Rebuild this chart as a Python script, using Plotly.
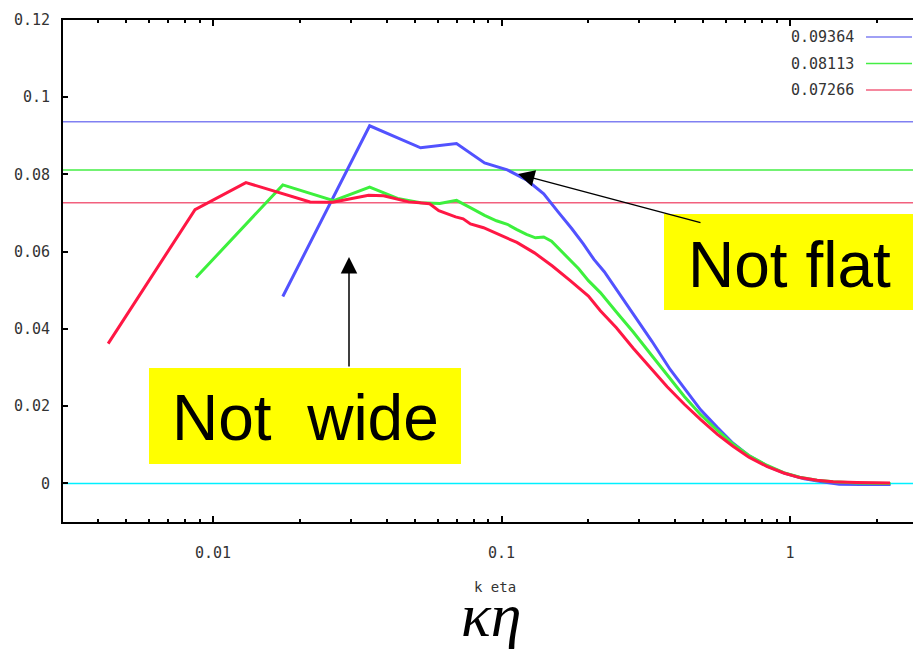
import plotly.graph_objects as go

# ---- spectra: k*eta vs compensated energy spectrum -------------------------
red_x = [0.00433, 0.00866, 0.0130, 0.0173, 0.0217, 0.0260, 0.0303, 0.0346, 0.0390,
         0.0433, 0.0476, 0.0520, 0.0563, 0.0606, 0.0650, 0.0693, 0.0736, 0.0780,
         0.0866, 0.100, 0.113, 0.130, 0.150, 0.173, 0.200, 0.220, 0.250, 0.286,
         0.330, 0.375, 0.430, 0.490, 0.560, 0.634, 0.720, 0.830, 0.950, 1.08,
         1.24, 1.41, 1.70, 2.22]
red_y = [0.0362, 0.0709, 0.0779, 0.0752, 0.0729, 0.0728, 0.0737, 0.0746, 0.0745,
         0.0737, 0.0729, 0.0727, 0.0724, 0.0706, 0.0697, 0.0690, 0.0685, 0.0672,
         0.0662, 0.0641, 0.0624, 0.0597, 0.0563, 0.0525, 0.0485, 0.0447, 0.0403, 0.0350,
         0.0297, 0.0250, 0.0205, 0.0165, 0.0127, 0.0096, 0.0068, 0.0044, 0.0027, 0.0015,
         0.0008, 0.0004, 0.0002, 0.0001]

green_x = [0.00873, 0.01745, 0.0262, 0.0349, 0.0436, 0.0524, 0.0611, 0.0698, 0.0785,
           0.0873, 0.0960, 0.1047, 0.113, 0.122, 0.131, 0.140, 0.149, 0.166, 0.185,
           0.200, 0.220, 0.250, 0.286, 0.330, 0.375, 0.430, 0.490, 0.560, 0.634,
           0.720, 0.830, 0.950, 1.08, 1.24, 1.41, 1.70, 2.23]
green_y = [0.0533, 0.0773, 0.0732, 0.0767, 0.0738, 0.0727, 0.0725, 0.0733, 0.0713,
           0.0694, 0.0680, 0.0671, 0.0657, 0.0645, 0.0636, 0.0638, 0.0627, 0.0592, 0.0556,
           0.0525, 0.0494, 0.0444, 0.0392, 0.0333, 0.0280, 0.0225, 0.0178, 0.0137, 0.0102,
           0.0072, 0.0047, 0.0028, 0.0016, 0.0008, 0.0004, 0.0001, 0.0000]

blue_x = [0.01745, 0.0349, 0.0524, 0.0698, 0.0873, 0.1047, 0.122, 0.140, 0.157,
          0.175, 0.192, 0.209, 0.227, 0.262, 0.297, 0.332, 0.384, 0.436, 0.489,
          0.559, 0.628, 0.716, 0.838, 0.960, 1.12, 1.29, 1.48, 1.75, 2.23]
blue_y = [0.0484, 0.0926, 0.0869, 0.0880, 0.0830, 0.0812, 0.0786, 0.0750, 0.0703,
          0.0660, 0.0620, 0.0580, 0.0548, 0.0480, 0.0422, 0.0368, 0.0295, 0.0240, 0.0191,
          0.0145, 0.0107, 0.0073, 0.0044, 0.0026, 0.0012, 0.0004, -0.0002, -0.0003, -0.0003]

# reference levels (shown in the key)
levels = [0.09364, 0.08113, 0.07266]
level_labels = ["0.09364", "0.08113", "0.07266"]

# ticks
x_major = [0.01, 0.1, 1]
x_major_text = ["0.01", "0.1", "1"]
x_minor = [0.004, 0.005, 0.006, 0.007, 0.008, 0.009,
           0.02, 0.03, 0.04, 0.05, 0.06, 0.07, 0.08, 0.09,
           0.2, 0.3, 0.4, 0.5, 0.6, 0.7, 0.8, 0.9, 2]
y_ticks = [0, 0.02, 0.04, 0.06, 0.08, 0.1, 0.12]
y_tick_text = ["0", "0.02", "0.04", "0.06", "0.08", "0.1", "0.12"]

# ---- styling ---------------------------------------------------------------
W, H = 913, 651
L, R, T, B = 63, 0, 20, 129
PW, PH = W - L - R, H - T - B

curve_colors = ["#5252ff", "#3df03d", "#ff1744"]
level_colors = ["#8080f2", "#44ee44", "#f2607e"]
mono = "DejaVu Sans Mono"


def px(xp):
    return (xp - L) / PW


def py(yp):
    return (H - B - yp) / PH


fig = go.Figure()
for xs, ys, c in [(blue_x, blue_y, curve_colors[0]),
                  (green_x, green_y, curve_colors[1]),
                  (red_x, red_y, curve_colors[2])]:
    fig.add_trace(go.Scatter(x=xs, y=ys, mode="lines",
                             line=dict(color=c, width=3), showlegend=False,
                             hoverinfo="skip"))

shapes = []
# constant reference lines
for lv, c in zip(levels, level_colors):
    shapes.append(dict(type="line", xref="paper", yref="y", x0=0, x1=1, y0=lv, y1=lv,
                       line=dict(color=c, width=1.5), layer="below"))
shapes.append(dict(type="line", xref="paper", yref="y", x0=0, x1=1, y0=0, y1=0,
                   line=dict(color="#00f0ff", width=1.5), layer="below"))

annotations = []
# key
for i, (lab, c) in enumerate(zip(level_labels, level_colors)):
    yk = 37 + i * 26.5
    annotations.append(dict(xref="paper", yref="paper", x=px(856), y=py(yk),
                            text=lab, showarrow=False, xanchor="right", yanchor="middle",
                            font=dict(family=mono, size=15, color="#333")))
    shapes.append(dict(type="line", xref="paper", yref="paper", x0=px(866), x1=px(912),
                       y0=py(yk), y1=py(yk), line=dict(color=c, width=1.5)))

# highlight boxes
shapes.append(dict(type="rect", xref="paper", yref="paper", x0=px(149), x1=px(461),
                   y0=py(464), y1=py(368), fillcolor="#ffff00", line=dict(width=0),
                   layer="above"))
shapes.append(dict(type="rect", xref="paper", yref="paper", x0=px(664), x1=px(913),
                   y0=py(310), y1=py(214), fillcolor="#ffff00", line=dict(width=0),
                   layer="above"))

annotations.append(dict(xref="paper", yref="paper", x=px(305), y=py(418),
                        text="Not\u00a0\u00a0wide", showarrow=False,
                        xanchor="center", yanchor="middle",
                        font=dict(family="Liberation Sans", size=64, color="black")))
annotations.append(dict(xref="paper", yref="paper", x=px(789), y=py(265),
                        text="Not flat", showarrow=False,
                        xanchor="center", yanchor="middle",
                        font=dict(family="Liberation Sans", size=64, color="black")))

# arrows
annotations.append(dict(xref="paper", yref="paper", x=px(349), y=py(257), text="",
                        showarrow=True, ax=0, ay=111, arrowhead=2, arrowsize=2.2,
                        arrowwidth=1.5, arrowcolor="black"))
annotations.append(dict(xref="paper", yref="paper", x=px(518), y=py(174), text="",
                        showarrow=True, ax=184, ay=49, arrowhead=2, arrowsize=2.2,
                        arrowwidth=1.5, arrowcolor="black"))

# axis titles
annotations.append(dict(xref="paper", yref="paper", x=px(495), y=py(587), text="k eta",
                        showarrow=False, xanchor="center", yanchor="middle",
                        font=dict(family=mono, size=14, color="#333")))
annotations.append(dict(xref="paper", yref="paper", x=px(491), y=py(580),
                        text="<i>κη</i>", showarrow=False, xanchor="center",
                        yanchor="top", borderpad=0,
                        font=dict(family="Liberation Serif", size=62, color="black")))

fig.update_layout(
    width=W, height=H,
    margin=dict(l=L, r=R, t=T, b=B, pad=0),
    paper_bgcolor="white", plot_bgcolor="white",
    showlegend=False,
    shapes=shapes,
    annotations=annotations,
    xaxis=dict(type="log", range=[-2.520, 0.426],
               tickvals=x_major, ticktext=x_major_text,
               ticks="inside", ticklen=6, tickwidth=1.5, tickcolor="black",
               showline=True, linewidth=2, linecolor="black", mirror="ticks",
               showgrid=False, zeroline=False, ticklabelstandoff=16,
               tickfont=dict(family=mono, size=15, color="#333")),
    yaxis=dict(range=[-0.01, 0.12], tickvals=y_ticks, ticktext=y_tick_text,
               ticks="inside", ticklen=5, tickwidth=1.5, tickcolor="black",
               showline=True, linewidth=2, linecolor="black", mirror=False,
               showgrid=False, zeroline=False, ticklabelstandoff=8,
               tickfont=dict(family=mono, size=15, color="#333")),
)
fig.update_xaxes(minor=dict(tickvals=x_minor, ticks="inside", ticklen=3,
                            tickwidth=1.5, tickcolor="black", showgrid=False))

fig.write_html("out.html")
